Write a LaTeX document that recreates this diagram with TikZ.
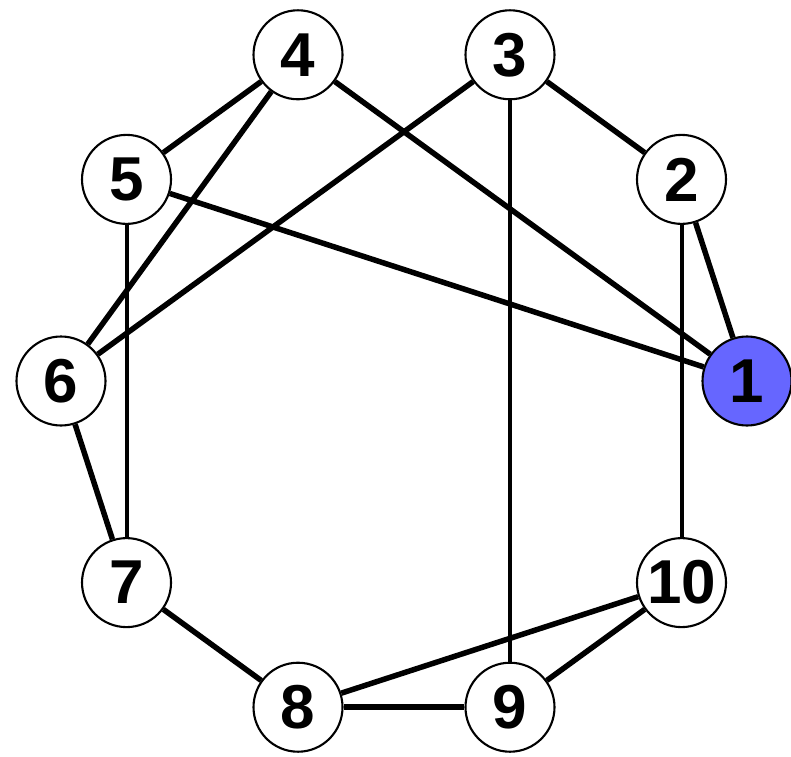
\documentclass[tikz,border=0pt]{standalone}
\usepackage{fontspec}
\setmainfont{Liberation Sans}
\usepackage{tikz}
\usetikzlibrary{calc}
\definecolor{startblue}{RGB}{102, 102, 255}

\begin{document}
\begin{tikzpicture}[x=1pt, y=1pt,
    vertex/.style={circle, draw=black, line width=2.1pt, fill=white,
                   minimum size=89pt, inner sep=0pt,
                   font=\fontsize{62}{62}\selectfont\bfseries},
    strong/.style={black, line width=5.5pt},
    weak/.style={black, line width=4pt}]
    % Frame of the picture
    \useasboundingbox (0,0) rectangle (791,756);
    % Centre of the ring
    \coordinate (O) at (404,375);
    % Vertices on a regular decagon
    \node[vertex, fill=startblue] (v1) at ($(O)+(0:343)$) {1};
    \foreach \i in {2,...,10} {
        \node[vertex] (v\i) at ($(O)+({(\i-1)*36}:343)$) {\i};
    }
    % Heavy edges
    \foreach \a/\b in {1/2, 2/3, 1/4, 1/5, 4/5, 4/6, 3/6,
                       6/7, 7/8, 8/9, 8/10, 9/10} {
        \draw[strong] (v\a) -- (v\b);
    }
    % Light edges
    \foreach \a/\b in {3/9, 2/10, 5/7} {
        \draw[weak] (v\a) -- (v\b);
    }
\end{tikzpicture}
\end{document}
